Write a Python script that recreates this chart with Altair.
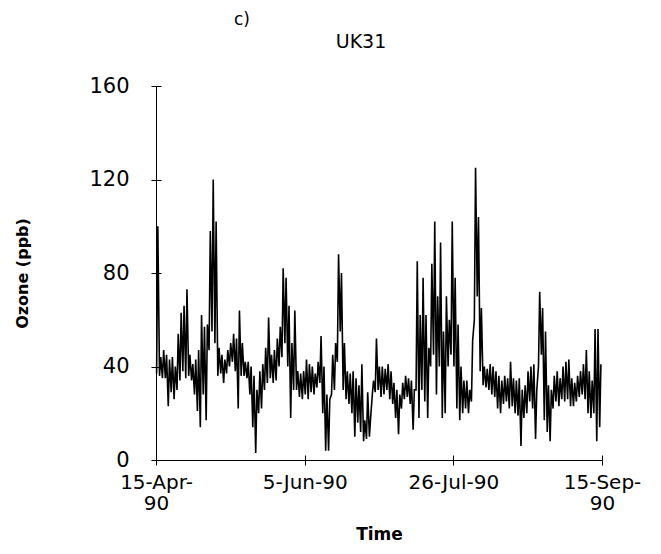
import altair as alt
import pandas as pd

# Daily low / high hourly ozone (ppb), day 0 = 15-Apr-90
daily_lo = [37, 36, 35, 35, 23, 29, 26, 30, 34, 38, 35, 36, 34, 28, 21, 14, 28, 17, 47, 55,
            50, 36, 37, 33, 37, 40, 42, 38, 22, 36, 36, 35, 28, 14, 3, 20, 22, 30, 33, 35,
            33, 34, 40, 44, 50, 40, 18, 30, 30, 27, 26, 28, 26, 29, 28, 31, 33, 20, 4, 4,
            28, 30, 42, 55, 30, 26, 24, 20, 10, 16, 12, 8, 9, 10, 28, 29, 30, 27, 28, 30,
            26, 24, 18, 11, 22, 26, 27, 24, 13, 30, 18, 30, 25, 18, 40, 45, 28, 40, 18, 20,
            40, 45, 40, 22, 17, 20, 22, 20, 25, 60, 70, 38, 32, 31, 30, 28, 27, 22, 20, 24,
            25, 22, 23, 20, 19, 6, 18, 20, 25, 22, 9, 40, 45, 17, 12, 8, 22, 25, 23, 26,
            25, 26, 23, 23, 25, 27, 28, 26, 20, 18, 20, 8, 14]
daily_hi = [100, 44, 47, 45, 43, 44, 40, 54, 63, 66, 73, 45, 41, 43, 47, 62, 57, 58, 98, 120,
            102, 48, 45, 43, 47, 50, 54, 52, 64, 50, 42, 42, 40, 36, 30, 38, 41, 48, 61, 45,
            47, 52, 57, 82, 78, 66, 50, 64, 38, 37, 38, 43, 41, 40, 37, 42, 53, 40, 28, 26,
            45, 50, 88, 80, 50, 38, 37, 38, 35, 32, 41, 17, 29, 18, 34, 52, 40, 40, 39, 41,
            38, 33, 30, 28, 33, 36, 35, 34, 30, 85, 62, 78, 62, 48, 84, 102, 70, 93, 55, 70,
            60, 102, 78, 58, 40, 34, 34, 30, 51, 125, 104, 65, 40, 39, 41, 40, 38, 36, 34, 36,
            35, 42, 35, 34, 35, 30, 32, 38, 40, 41, 30, 72, 65, 55, 32, 30, 36, 38, 35, 40,
            42, 43, 35, 33, 36, 38, 41, 47, 38, 34, 56, 56, 41]

tick_days = [0, 51, 102, 153]
tick_labels = [["15-Apr-", "90"], "5-Jun-90", "26-Jul-90", ["15-Sep-", "90"]]
y_ticks = [0, 40, 80, 120, 160]

rows = []
for d, (lo, hi) in enumerate(zip(daily_lo, daily_hi)):
    rows.append({"day": d + 5 / 24, "ozone": lo})
    rows.append({"day": d + 15 / 24, "ozone": hi})
df = pd.DataFrame(rows)


def lab(v):
    if isinstance(v, list):
        return "[" + ",".join("'" + s + "'" for s in v) + "]"
    return "'" + v + "'"


expr = ""
for dd, tl in zip(tick_days[:-1], tick_labels[:-1]):
    expr += f"datum.value == {dd} ? {lab(tl)} : "
expr += lab(tick_labels[-1])

FONT = "DejaVu Sans"
xscale = alt.Scale(domain=[0, 153], nice=False, zero=False)
yscale = alt.Scale(domain=[0, 160], nice=False)

line = alt.Chart(df).mark_line(color="black", strokeWidth=1.6).encode(
    x=alt.X("day:Q", scale=xscale,
            axis=alt.Axis(values=tick_days, labelExpr=expr, title="Time", orient="bottom",
                          labelFont=FONT, labelFontSize=20, labelColor="black",
                          labelLineHeight=21, labelPadding=7, labelOverlap=False,
                          labelFlush=False, labelBound=False,
                          tickSize=5, tickColor="black", domainColor="black",
                          grid=False, titleFont=FONT, titleFontSize=17,
                          titleFontWeight="bold", titleColor="black", titlePadding=13)),
    y=alt.Y("ozone:Q", scale=yscale,
            axis=alt.Axis(values=y_ticks, title="Ozone (ppb)", orient="left",
                          labelFont=FONT, labelFontSize=21, labelColor="black",
                          labelPadding=22, tickSize=5, tickColor="black",
                          domainColor="black", grid=False,
                          titleFont=FONT, titleFontSize=16, titleFontWeight="bold",
                          titleColor="black", titlePadding=58)),
)

# inner half of the cross tick marks
inner = alt.Chart(df).mark_line(strokeOpacity=0).encode(
    x=alt.X("day:Q", scale=xscale,
            axis=alt.Axis(values=tick_days, labels=False, domain=False, title=None,
                          orient="bottom", offset=-5, tickSize=5, tickColor="black",
                          grid=False)),
    y=alt.Y("ozone:Q", scale=yscale,
            axis=alt.Axis(values=y_ticks, labels=False, domain=False, title=None,
                          orient="left", offset=-5, tickSize=5, tickColor="black",
                          grid=False)),
)

t1 = alt.Chart(pd.DataFrame({"t": ["c)"]})).mark_text(
    font=FONT, fontSize=17, color="black").encode(
    x=alt.value(86), y=alt.value(-66), text="t:N")
t2 = alt.Chart(pd.DataFrame({"t": ["UK31"]})).mark_text(
    font=FONT, fontSize=19, color="black").encode(
    x=alt.value(205), y=alt.value(-44), text="t:N")

chart = alt.layer(line, inner, t1, t2).resolve_axis(x="independent", y="independent").properties(
    width=446, height=374,
    autosize=alt.AutoSizeParams(type="none"),
    padding={"left": 148, "top": 78, "right": 45, "bottom": 86},
).configure_view(stroke="transparent")

chart.save("out.html", embed_options={"renderer": "svg", "actions": False})
